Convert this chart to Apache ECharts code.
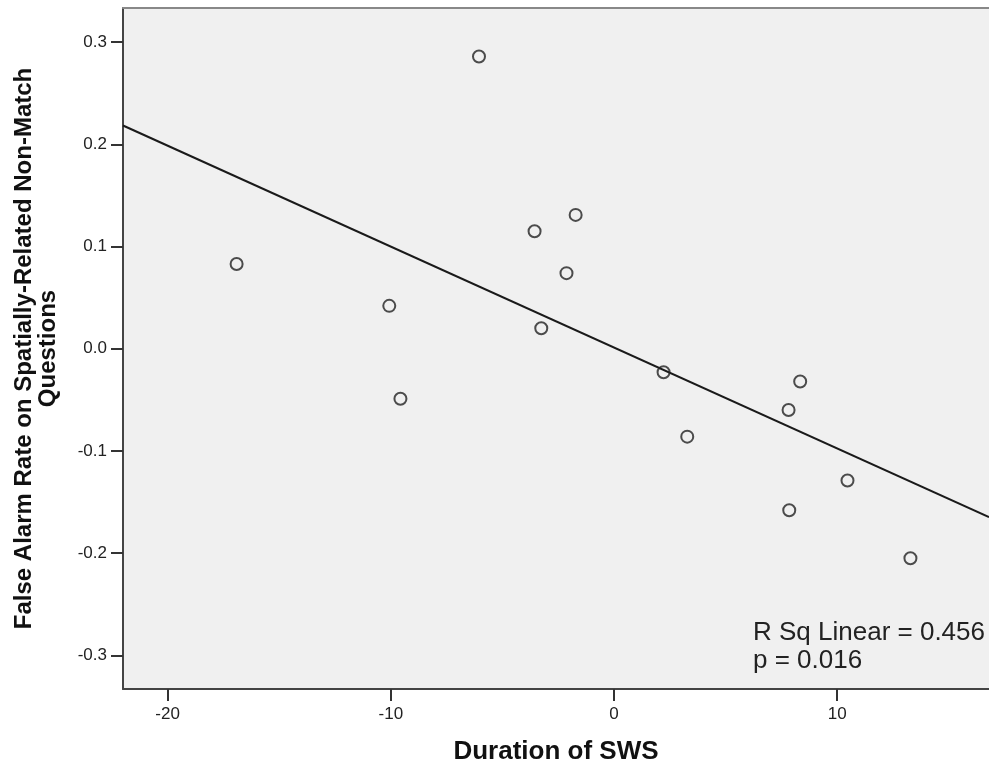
<!DOCTYPE html>
<html>
<head>
<meta charset="utf-8">
<script src="https://cdn.jsdelivr.net/npm/echarts@6/dist/echarts.min.js"></script>
<style>
html,body{margin:0;padding:0;background:#fff;}
#c{width:989px;height:772px;}
</style>
</head>
<body>
<div id="c"></div>
<script>
// Scatter data: Duration of SWS vs False Alarm Rate
var swsDuration = [-6.05, -16.91, -10.07, -9.57, -1.72, -3.56, -2.13, -3.26, 2.22, 8.34, 7.82, 3.28, 10.46, 7.85, 13.28];
var falseAlarm  = [0.286, 0.083, 0.042, -0.049, 0.131, 0.115, 0.074, 0.020, -0.023, -0.032, -0.060, -0.086, -0.129, -0.158, -0.205];
// Linear fit line end points
var fitX = [-22, 16.8];
var fitY = [0.2185, -0.1648];
// Tick labels
var xTicks = [-20, -10, 0, 10];
var yTicks = [-0.3, -0.2, -0.1, 0.0, 0.1, 0.2, 0.3];
var annotationLines = ['R Sq Linear = 0.456', 'p = 0.016'];

var pts = swsDuration.map(function (x, i) { return [x, falseAlarm[i]]; });
var fitPts = fitX.map(function (x, i) { return [x, fitY[i]]; });

var chart = echarts.init(document.getElementById('c'), null, {renderer: 'canvas'});
var font = 'Liberation Sans, Arial, sans-serif';
chart.setOption({
  animation: false,
  grid: {left: 123, right: 0, top: 8, bottom: 83, show: true, backgroundColor: '#f0f0f0', borderWidth: 0},
  xAxis: [{
    type: 'value', min: -22, max: 16.8,
    name: 'Duration of SWS', nameLocation: 'middle', nameGap: 50,
    nameTextStyle: {fontFamily: font, fontSize: 26, fontWeight: 'bold', color: '#111'},
    splitLine: {show: false},
    axisLine: {show: true, onZero: false, lineStyle: {color: '#444', width: 2}},
    axisTick: {show: true, customValues: xTicks, length: 12, lineStyle: {color: '#333', width: 2}},
    axisLabel: {customValues: xTicks, margin: 17, fontFamily: font, fontSize: 17, color: '#222',
      formatter: function (v) { return String(v); }}
  }, {
    type: 'value', min: -22, max: 16.8, position: 'top',
    splitLine: {show: false},
    axisLine: {show: true, onZero: false, lineStyle: {color: '#888', width: 2}},
    axisTick: {show: false}, axisLabel: {show: false}
  }],
  yAxis: [{
    type: 'value', min: -0.333, max: 0.3335,
    name: 'False Alarm Rate on Spatially-Related Non-Match\nQuestions',
    nameLocation: 'middle', nameGap: 63, nameRotate: 90,
    nameTextStyle: {fontFamily: font, fontSize: 24, fontWeight: 'bold', color: '#111', lineHeight: 24},
    splitLine: {show: false},
    axisLine: {show: true, onZero: false, lineStyle: {color: '#444', width: 2}},
    axisTick: {show: true, customValues: yTicks, length: 12, lineStyle: {color: '#333', width: 2}},
    axisLabel: {customValues: yTicks, margin: 16, fontFamily: font, fontSize: 17, color: '#222',
      formatter: function (v) { return v.toFixed(1); }}
  }],
  series: [{
    type: 'line', data: fitPts, showSymbol: false, symbol: 'none',
    lineStyle: {color: '#1a1a1a', width: 2}, silent: true, z: 2
  }, {
    type: 'scatter', data: pts, symbol: 'circle', symbolSize: 12,
    itemStyle: {color: 'rgba(0,0,0,0)', borderColor: '#222', borderWidth: 2}, z: 3
  }],
  graphic: [{
    type: 'text', left: 753, top: 619,
    style: {text: annotationLines.join('\n'), fontFamily: font, fontSize: 26, lineHeight: 28, fill: '#222'}
  }]
});
</script>
</body>
</html>
